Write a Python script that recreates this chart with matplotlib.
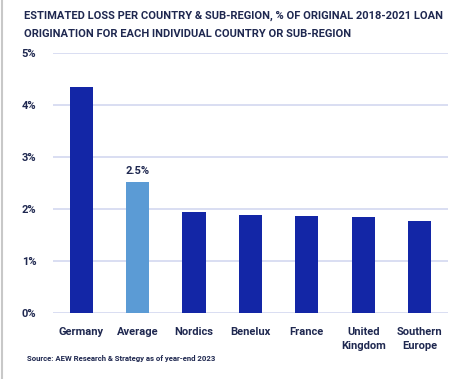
import matplotlib.pyplot as plt
from matplotlib.lines import Line2D

categories = ['Germany', 'Average', 'Nordics', 'Benelux', 'France', 'United\nKingdom', 'Southern\nEurope']
values = [4.35, 2.52, 1.94, 1.88, 1.87, 1.85, 1.77]
colors = ['#1326a6', '#5b9bd5', '#1326a6', '#1326a6', '#1326a6', '#1326a6', '#1326a6']
yticks = [0, 1, 2, 3, 4, 5]

text_color = '#1f2850'
plt.rcParams['font.family'] = ['Roboto', 'DejaVu Sans']

fig = plt.figure(figsize=(4.65, 3.79), dpi=100)
ax = fig.add_axes([0.114, 0.174, 0.849, 0.686])

x = range(len(categories))
ax.bar(x, values, width=0.41, color=colors, zorder=3)
# etiqueta solo sobre la media
ax.text(1, values[1] + 0.12, '2.5%', ha='center', va='bottom', fontsize=8,
        fontweight='bold', color=text_color)

ax.set_xlim(-0.5, len(categories) - 0.5)
ax.set_ylim(0, 5)
ax.set_yticks(yticks)
ax.set_yticklabels([f'{t}%' for t in yticks])
ax.set_xticks(list(x))
ax.set_xticklabels(categories, linespacing=1.5)
ax.grid(axis='y', color='#d3d8f0', linewidth=1.2, zorder=0)
ax.tick_params(axis='both', length=0, labelsize=8, labelcolor=text_color)
ax.tick_params(axis='x', pad=10)
ax.tick_params(axis='y', pad=12)
for lab in ax.get_xticklabels() + ax.get_yticklabels():
    lab.set_fontweight('bold')
for s in ax.spines.values():
    s.set_visible(False)

fig.text(0.051, 0.959, 'ESTIMATED LOSS PER COUNTRY & SUB-REGION, % OF ORIGINAL 2018-2021 LOAN',
         ha='left', va='center', fontsize=8, fontweight='bold', color=text_color)
fig.text(0.051, 0.911, 'ORIGINATION FOR EACH INDIVIDUAL COUNTRY OR SUB-REGION',
         ha='left', va='center', fontsize=8, fontweight='bold', color=text_color)
fig.text(0.058, 0.055, 'Source: AEW Research & Strategy as of year-end 2023',
         ha='left', va='center', fontsize=5.6, fontweight='bold', color=text_color)

# borde gris a la izquierda
fig.add_artist(Line2D([0.005, 0.005], [0, 1], transform=fig.transFigure,
                      color='#c8c8c8', linewidth=1.5))

fig.savefig('out.png', dpi=100)
